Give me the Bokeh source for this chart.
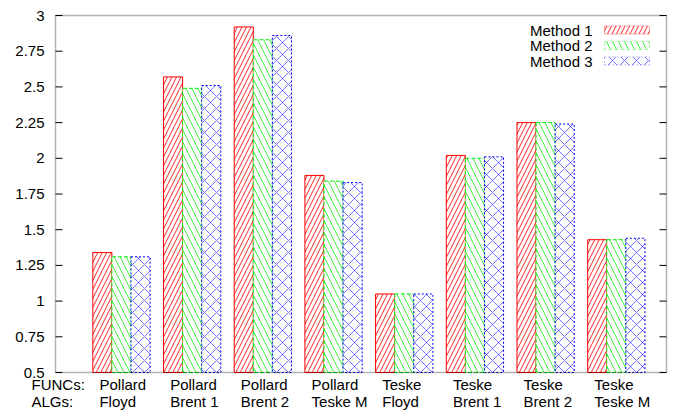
from bokeh.plotting import figure
from bokeh.models import Label, BoxAnnotation, Range1d
from bokeh.core.properties import value
from bokeh.embed import file_html
from bokeh.resources import INLINE

# Data
func_labels = ["Pollard", "Pollard", "Pollard", "Pollard", "Teske", "Teske", "Teske", "Teske"]
alg_labels = ["Floyd", "Brent 1", "Brent 2", "Teske M", "Floyd", "Brent 1", "Brent 2", "Teske M"]
method1 = [1.34, 2.57, 2.92, 1.88, 1.05, 2.02, 2.25, 1.43]
method2 = [1.31, 2.49, 2.83, 1.84, 1.05, 2.00, 2.25, 1.43]
method3 = [1.31, 2.51, 2.86, 1.83, 1.05, 2.01, 2.24, 1.44]
series_names = ["Method 1", "Method 2", "Method 3"]
y_ticks = [0.5, 0.75, 1.0, 1.25, 1.5, 1.75, 2.0, 2.25, 2.5, 2.75, 3.0]
y_tick_labels = ["0.5", "0.75", "1", "1.25", "1.5", "1.75", "2", "2.25", "2.5", "2.75", "3"]
row_titles = ["FUNCs:", "ALGs:"]

# Geometry of the plotting box inside the canvas (pixels)
W, H = 683, 410
FL, FR, FT, FB = 55, 666, 15, 372
X_LO, X_HI = -0.933, 7.71
Y_LO, Y_HI = 0.5, 3.0
FONT = "Liberation Sans"
FSIZE = "15px"
ROW_Y = [384, 401]
TICK_PX = 7
XU = (X_HI - X_LO) / (FR - FL)   # data units per pixel, x
YU = (Y_HI - Y_LO) / (FB - FT)   # data units per pixel, y


def dx(px):
    return X_LO + (px - FL) * XU


def dy(py):
    return Y_LO + (FB - py) * YU


# The canvas is one frame; the plotting box is drawn inside it
p = figure(width=W, height=H, output_backend="svg", toolbar_location=None,
           x_range=Range1d(dx(0), dx(W)), y_range=Range1d(dy(H), dy(0)),
           x_axis_type=None, y_axis_type=None,
           min_border_left=0, min_border_right=0,
           min_border_top=0, min_border_bottom=0)
p.background_fill_color = "white"
p.border_fill_color = "white"
p.outline_line_color = None
p.xgrid.visible = False
p.ygrid.visible = False

# Bars
styles = [
    dict(color="red", dash="solid", hatch="right_diagonal_line", scale=9, alpha=0.85),
    dict(color="#00ee00", dash="4 2", hatch="left_diagonal_line", scale=12, alpha=0.75),
    dict(color="blue", dash="2 2", hatch="diagonal_cross", scale=12, alpha=0.55),
]
bar_w = 0.27
series = [method1, method2, method3]
for k, (vals, st) in enumerate(zip(series, styles)):
    xs = [i + (k - 1) * bar_w for i in range(len(vals))]
    p.vbar(x=xs, top=vals, bottom=Y_LO, width=bar_w,
           fill_color="white", line_color=st["color"], line_width=1,
           line_dash=st["dash"], hatch_pattern=st["hatch"],
           hatch_color=st["color"], hatch_scale=st["scale"],
           hatch_weight=1, hatch_alpha=st["alpha"])

# Plot border
p.add_layout(BoxAnnotation(left=X_LO, right=X_HI, bottom=Y_LO, top=Y_HI,
                           fill_color=None, fill_alpha=0,
                           line_color="black", line_width=1.5))

# Inward y ticks on both sides, labels on the left
nt = len(y_ticks)
p.segment(x0=[X_LO] * nt, x1=[X_LO + TICK_PX * XU] * nt, y0=y_ticks, y1=y_ticks,
          line_color="black", line_width=1)
p.segment(x0=[X_HI] * nt, x1=[X_HI - TICK_PX * XU] * nt, y0=y_ticks, y1=y_ticks,
          line_color="black", line_width=1)
p.text(x=[X_LO] * nt, y=y_ticks, text=y_tick_labels, x_offset=-11,
       text_font=value(FONT), text_font_size=value(FSIZE), text_color="black",
       text_align="right", text_baseline="middle")

# Category labels under the bars
n = len(func_labels)
p.text(x=[dx(31)] * 2, y=[dy(v) for v in ROW_Y], text=row_titles,
       text_font=value(FONT), text_font_size=value(FSIZE), text_color="black",
       text_align="left", text_baseline="middle")
p.text(x=list(range(n)) * 2, y=[dy(ROW_Y[0])] * n + [dy(ROW_Y[1])] * n,
       text=func_labels + alg_labels, x_offset=-22,
       text_font=value(FONT), text_font_size=value(FSIZE), text_color="black",
       text_align="left", text_baseline="middle")

# Key
for k, (name, st) in enumerate(zip(series_names, styles)):
    cy = 29.5 + 15.5 * k
    p.add_layout(Label(x=dx(592), y=dy(cy), text=name, text_align="right",
                       text_baseline="middle", text_font=FONT,
                       text_font_size=FSIZE, text_color="black"))
    p.add_layout(BoxAnnotation(left=dx(604), right=dx(649),
                               top=dy(cy - 4), bottom=dy(cy + 4),
                               fill_color="white", fill_alpha=1,
                               line_color=st["color"], line_width=1,
                               line_dash=st["dash"], hatch_pattern=st["hatch"],
                               hatch_color=st["color"], hatch_scale=st["scale"],
                               hatch_weight=1, hatch_alpha=st["alpha"]))

open("out.html", "w").write(file_html(p, INLINE))
